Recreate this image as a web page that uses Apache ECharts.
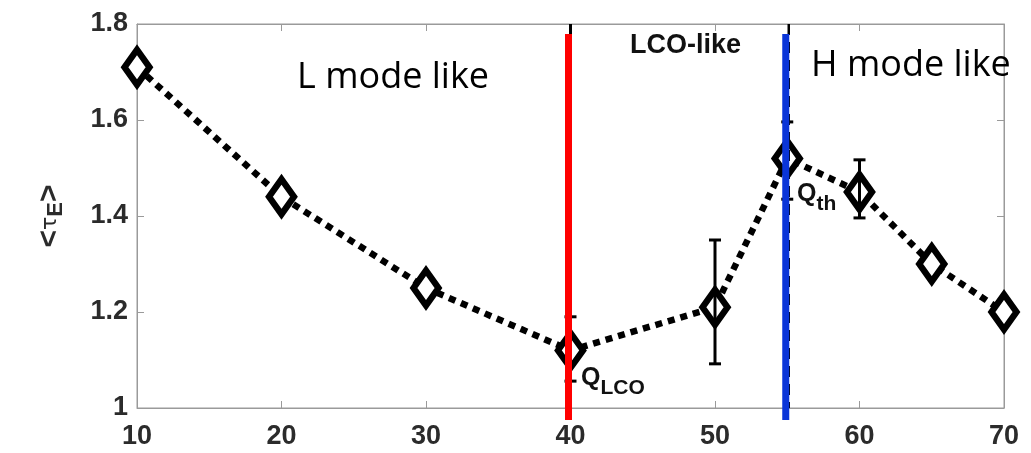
<!DOCTYPE html>
<html>
<head>
<meta charset="utf-8">
<script src="https://cdn.jsdelivr.net/npm/echarts@6/dist/echarts.min.js"></script>
<style>
html,body{margin:0;padding:0;background:#fff;}
#chart{width:1031px;height:453px;}
</style>
</head>
<body>
<div id="chart"></div>
<script>
// ---- data ----
var powerX = [10, 20, 30, 40, 50, 55, 60, 65, 70];
var tauE   = [1.71, 1.44, 1.25, 1.12, 1.21, 1.52, 1.45, 1.30, 1.20];
var errX    = [40, 50, 55, 60];
var errLow  = [1.056, 1.092, 1.435, 1.396];
var errHigh = [1.19, 1.35, 1.596, 1.517];
var xTicks = [10, 20, 30, 40, 50, 60, 70];
var yTicks = [1, 1.2, 1.4, 1.6, 1.8];
var qLco = 40;
var qTh = 55;

var chart = echarts.init(document.getElementById('chart'), null, {renderer: 'canvas'});

var lineData = powerX.map(function (x, i) { return [x, tauE[i]]; });
var errData = errX.map(function (x, i) { return [x, errLow[i], errHigh[i]]; });

var tickFont = {fontFamily: 'Liberation Sans', fontWeight: 'bold', fontSize: 27, color: '#2b2b2b'};
var axisGray = '#9a9a9a';

function vLines(params, api) {
  var cs = params.coordSys;
  var x = api.coord([api.value(0), 1])[0];
  var kind = api.value(1);
  var top = cs.y, bottom = cs.y + cs.height;
  var children = [];
  if (kind === 0) {
    children.push({type: 'line', shape: {x1: x, y1: top, x2: x, y2: bottom}, style: {stroke: '#000', lineWidth: 3}});
    children.push({type: 'line', shape: {x1: x - 2, y1: top + 10, x2: x - 2, y2: bottom + 12}, style: {stroke: '#ff0000', lineWidth: 7}});
  } else {
    children.push({type: 'line', shape: {x1: x + 1.5, y1: top, x2: x + 1.5, y2: bottom}, style: {stroke: '#000', lineWidth: 2.5, lineDash: [11, 7]}});
    children.push({type: 'line', shape: {x1: x - 1.5, y1: top + 10, x2: x - 1.5, y2: bottom + 12}, style: {stroke: '#0a35d8', lineWidth: 7}});
  }
  return {type: 'group', children: children};
}

function errBars(params, api) {
  var x = api.value(0);
  var lo = api.coord([x, api.value(1)]);
  var hi = api.coord([x, api.value(2)]);
  var cw = 6;
  var st = {stroke: '#000', lineWidth: 3};
  return {type: 'group', children: [
    {type: 'line', shape: {x1: lo[0], y1: lo[1], x2: hi[0], y2: hi[1]}, style: st},
    {type: 'line', shape: {x1: lo[0] - cw, y1: lo[1], x2: lo[0] + cw, y2: lo[1]}, style: st},
    {type: 'line', shape: {x1: hi[0] - cw, y1: hi[1], x2: hi[0] + cw, y2: hi[1]}, style: st}
  ]};
}

var option = {
  animation: false,
  backgroundColor: '#fff',
  grid: {left: 137, right: 27, top: 24, bottom: 45, show: true, borderColor: axisGray, borderWidth: 1},
  xAxis: [{
    type: 'value', min: xTicks[0], max: xTicks[xTicks.length - 1], interval: 10,
    axisLine: {show: true, lineStyle: {color: axisGray, width: 1}},
    axisTick: {show: true, inside: true, length: 7, lineStyle: {color: axisGray}},
    axisLabel: Object.assign({margin: 15}, tickFont),
    splitLine: {show: false}
  }, {
    type: 'value', position: 'top', min: xTicks[0], max: xTicks[xTicks.length - 1], interval: 10,
    axisLine: {show: true, lineStyle: {color: axisGray, width: 1}},
    axisTick: {show: true, inside: true, length: 7, lineStyle: {color: axisGray}},
    axisLabel: {show: false}, splitLine: {show: false}
  }],
  yAxis: [{
    type: 'value', min: yTicks[0], max: yTicks[yTicks.length - 1], interval: 0.2,
    axisLine: {show: true, lineStyle: {color: axisGray, width: 1}},
    axisTick: {show: true, inside: true, length: 7, lineStyle: {color: axisGray}},
    axisLabel: Object.assign({margin: 9, formatter: function (v) { return v === 1 ? '1' : v.toFixed(1); }}, tickFont),
    splitLine: {show: false},
    name: '{a|<}{t|τ}{e|E}{a|>}',
    nameLocation: 'middle', nameGap: 70, nameRotate: 90,
    nameTextStyle: {
      rich: {
        a: {fontFamily: 'Liberation Sans', fontWeight: 'bold', fontSize: 30, color: '#2b2b2b', lineHeight: 34},
        t: {fontFamily: 'DejaVu Sans', fontSize: 22, color: '#2b2b2b', lineHeight: 34},
        e: {fontFamily: 'Liberation Sans', fontWeight: 'bold', fontSize: 22, color: '#2b2b2b', lineHeight: 18, verticalAlign: 'bottom'}
      }
    }
  }, {
    type: 'value', position: 'right', min: yTicks[0], max: yTicks[yTicks.length - 1], interval: 0.2,
    axisLine: {show: true, lineStyle: {color: axisGray, width: 1}},
    axisTick: {show: true, inside: true, length: 7, lineStyle: {color: axisGray}},
    axisLabel: {show: false}, splitLine: {show: false}
  }],
  series: [{
    type: 'line',
    data: lineData,
    z: 2,
    symbol: 'diamond',
    symbolSize: [25, 35],
    itemStyle: {color: '#fff', borderColor: '#000', borderWidth: 6.5},
    lineStyle: {color: '#000', width: 6.5, type: [7, 6], cap: 'butt'}
  }, {
    type: 'custom',
    z: 3,
    renderItem: errBars,
    data: errData,
    encode: {x: 0, y: [1, 2]}
  }, {
    type: 'custom',
    z: 4,
    clip: false,
    renderItem: vLines,
    data: [[qLco, 0], [qTh, 1]],
    encode: {x: 0}
  }],
  graphic: [
    {type: 'text', x: 297, y: 78, z: 10, style: {text: 'L mode like', fontFamily: 'Open Sans', fontSize: 36, fill: '#000', textVerticalAlign: 'middle'}},
    {type: 'text', x: 811, y: 66, z: 10, style: {text: 'H mode like', fontFamily: 'Open Sans', fontSize: 36, fill: '#000', textVerticalAlign: 'middle'}},
    {type: 'text', x: 630, y: 46, z: 10, style: {text: 'LCO-like', fontFamily: 'Liberation Sans', fontWeight: 'bold', fontSize: 27, fill: '#111', textVerticalAlign: 'middle'}},
    {type: 'text', x: 581, y: 378, z: 10, style: {
      text: '{q|Q}{s|LCO}', textVerticalAlign: 'middle',
      rich: {
        q: {fontFamily: 'Liberation Sans', fontWeight: 'bold', fontSize: 25, fill: '#111', lineHeight: 42},
        s: {fontFamily: 'Liberation Sans', fontWeight: 'bold', fontSize: 21, fill: '#111', lineHeight: 14, verticalAlign: 'bottom'}
      }}},
    {type: 'text', x: 797, y: 194, z: 10, style: {
      text: '{q|Q}{s|th}', textVerticalAlign: 'middle',
      rich: {
        q: {fontFamily: 'Liberation Sans', fontWeight: 'bold', fontSize: 25, fill: '#111', lineHeight: 42},
        s: {fontFamily: 'Liberation Sans', fontWeight: 'bold', fontSize: 21, fill: '#111', lineHeight: 14, verticalAlign: 'bottom'}
      }}}
  ]
};
chart.setOption(option);
</script>
</body>
</html>
